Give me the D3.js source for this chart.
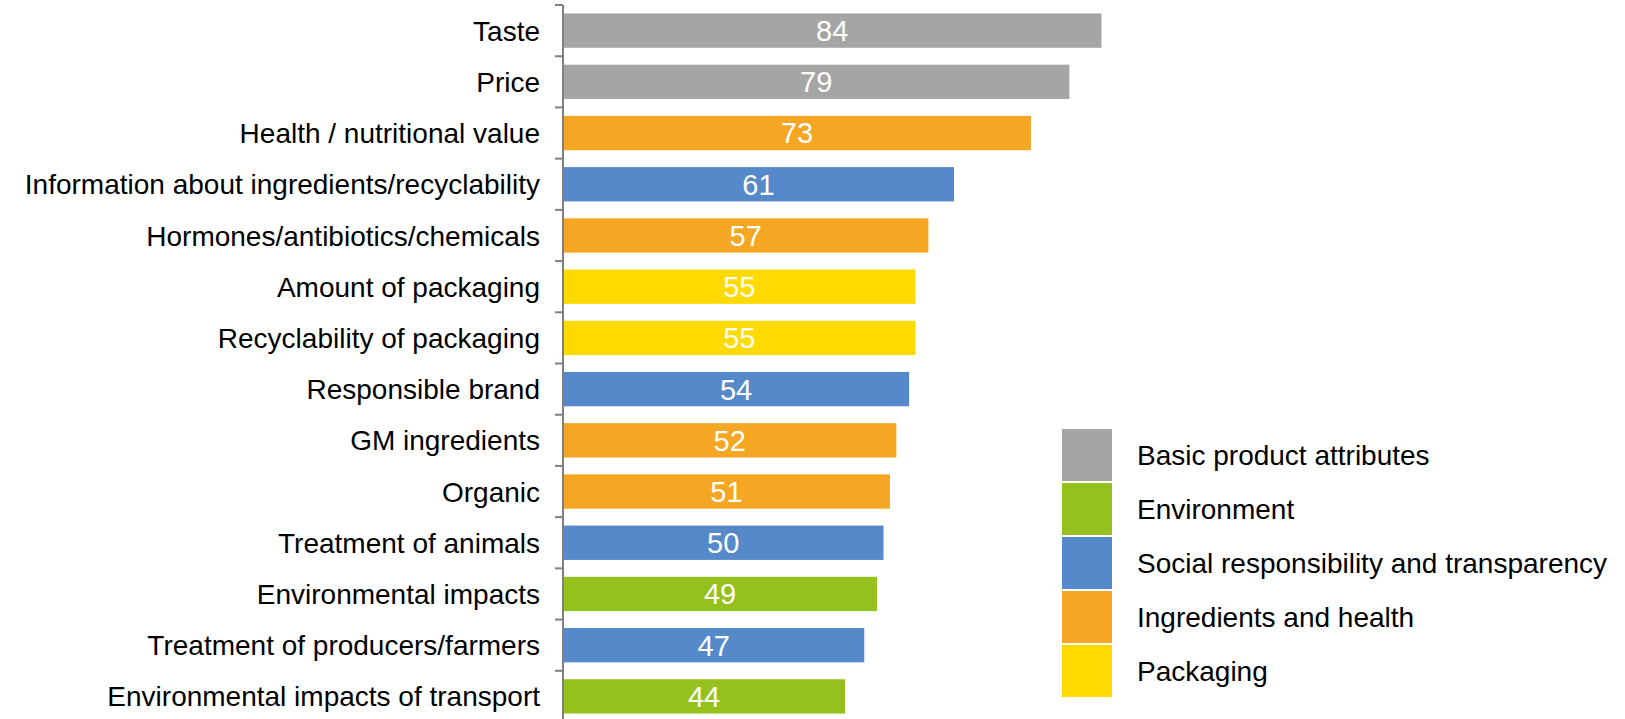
<!DOCTYPE html>
<html>
<head>
<meta charset="utf-8">
<script src="https://cdn.jsdelivr.net/npm/d3@7"></script>
<style>
  html, body { margin: 0; padding: 0; background: #ffffff; }
  svg { display: block; }
  text { font-family: "Liberation Sans", Arial, sans-serif; }
</style>
</head>
<body>
<svg id="chart" width="1625" height="719"></svg>
<script>
// Attribute importance scores, one bar per attribute
const categories = [
  "Taste",
  "Price",
  "Health / nutritional value",
  "Information about ingredients/recyclability",
  "Hormones/antibiotics/chemicals",
  "Amount of packaging",
  "Recyclability of packaging",
  "Responsible brand",
  "GM ingredients",
  "Organic",
  "Treatment of animals",
  "Environmental impacts",
  "Treatment of producers/farmers",
  "Environmental impacts of transport"
];
const values = [84, 79, 73, 61, 57, 55, 55, 54, 52, 51, 50, 49, 47, 44];
const groups = [
  "Basic product attributes",
  "Basic product attributes",
  "Ingredients and health",
  "Social responsibility and transparency",
  "Ingredients and health",
  "Packaging",
  "Packaging",
  "Social responsibility and transparency",
  "Ingredients and health",
  "Ingredients and health",
  "Social responsibility and transparency",
  "Environment",
  "Social responsibility and transparency",
  "Environment"
];
const legendGroups = [
  "Basic product attributes",
  "Environment",
  "Social responsibility and transparency",
  "Ingredients and health",
  "Packaging"
];
const groupColors = ["#A5A5A5", "#95C11F", "#5589C9", "#F5A623", "#FFDA00"];

const data = categories.map((c, i) => ({ name: c, value: values[i], group: groups[i] }));

const svg = d3.select("#chart");
const axisX = 563;

const x = d3.scaleLinear().domain([0, 100]).range([axisX, axisX + 641]);
const y = d3.scaleBand().domain(categories).range([5, 722]).paddingInner(0.33).paddingOuter(0.165);
const color = d3.scaleOrdinal().domain(legendGroups).range(groupColors);

// Bars
svg.append("g")
  .selectAll("rect")
  .data(data)
  .join("rect")
  .attr("x", x(0))
  .attr("y", d => y(d.name))
  .attr("width", d => x(d.value) - x(0))
  .attr("height", y.bandwidth())
  .attr("fill", d => color(d.group));

// Value labels centred inside each bar
svg.append("g")
  .selectAll("text")
  .data(data)
  .join("text")
  .attr("x", d => (x(0) + x(d.value)) / 2)
  .attr("y", d => y(d.name) + y.bandwidth() / 2)
  .attr("dy", "0.36em")
  .attr("text-anchor", "middle")
  .attr("fill", "#ffffff")
  .style("font-size", "29px")
  .text(d => d.value);

// Category axis: ticks sit on band boundaries
const yAxis = d3.axisLeft(y).tickSize(0).tickPadding(23);
const axisG = svg.append("g").attr("transform", `translate(${axisX},0)`).call(yAxis);
axisG.select(".domain").remove();
axisG.selectAll("text")
  .attr("fill", "#000000")
  .style("font-size", "28px")
  .attr("dy", "0.36em");

const step = y.step();
const boundaries = d3.range(categories.length + 1).map(i => y.range()[0] + i * step);
svg.append("line")
  .attr("x1", axisX).attr("x2", axisX)
  .attr("y1", boundaries[0]).attr("y2", 719)
  .attr("stroke", "#808080").attr("stroke-width", 2);
svg.append("g")
  .selectAll("line")
  .data(boundaries)
  .join("line")
  .attr("x1", axisX - 8).attr("x2", axisX)
  .attr("y1", d => d).attr("y2", d => d)
  .attr("stroke", "#808080").attr("stroke-width", 2);

// Legend
const legend = svg.append("g").attr("transform", "translate(1062,429)");
const lg = legend.selectAll("g")
  .data(legendGroups)
  .join("g")
  .attr("transform", (d, i) => `translate(0,${i * 54})`);
lg.append("rect")
  .attr("width", 50).attr("height", 52)
  .attr("fill", d => color(d));
lg.append("text")
  .attr("x", 75).attr("y", 26)
  .attr("dy", "0.36em")
  .attr("fill", "#000000")
  .style("font-size", "28px")
  .text(d => d);
</script>
</body>
</html>
